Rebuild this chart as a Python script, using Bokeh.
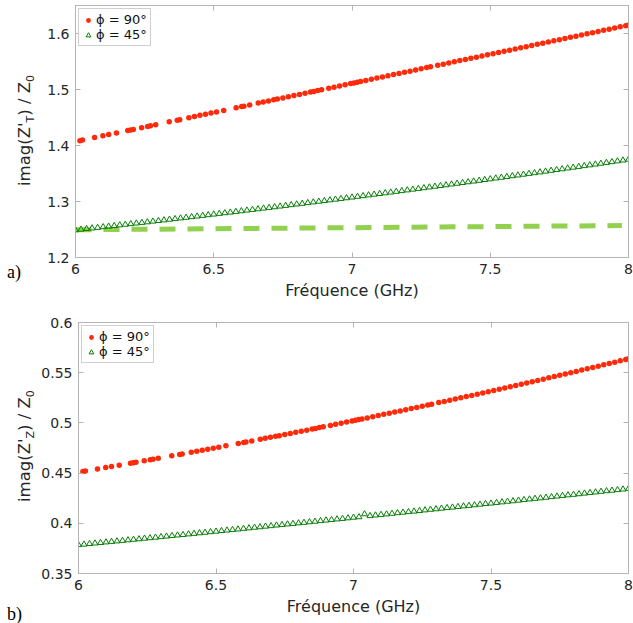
from bokeh.plotting import figure
from bokeh.models import (Range1d, LinearAxis, Legend, LegendItem, Div,
                          CustomJSTickFormatter, FixedTicker, PrintfTickFormatter)
from bokeh.layouts import column, row
from bokeh.embed import file_html
from bokeh.resources import INLINE

# ---------------- data ----------------
X_TICKS = [6, 6.5, 7, 7.5, 8]
TOP_YTICKS = [1.2, 1.3, 1.4, 1.5, 1.6]
BOT_YTICKS = [0.35, 0.4, 0.45, 0.5, 0.55, 0.6]
LEGEND_LABELS = ["ϕ = 90°", "ϕ = 45°"]
X_TITLE = "Fréquence (GHz)"

FREQ_RED = [6.016, 6.025, 6.069, 6.099, 6.120, 6.148, 6.189, 6.199, 6.209, 6.239, 6.261, 6.271, 6.290, 6.339, 6.368, 6.377,
            6.41, 6.43, 6.45, 6.47, 6.49, 6.51,
            6.536, 6.581, 6.601, 6.609, 6.630, 6.661, 6.679, 6.698, 6.717,
            6.73, 6.75, 6.77, 6.79, 6.81, 6.83, 6.85, 6.862,
            6.876, 6.890,
            6.916, 6.935, 6.955, 6.975, 6.995, 7.007,
            7.019, 7.031,
            7.05, 7.07, 7.09, 7.11, 7.13, 7.15, 7.17, 7.19, 7.21, 7.23, 7.25, 7.27, 7.284,
            7.31, 7.33, 7.35, 7.37, 7.39, 7.41, 7.43, 7.45, 7.47, 7.49, 7.51, 7.53, 7.55, 7.57, 7.59, 7.61, 7.63, 7.65,
            7.67, 7.69, 7.71, 7.73, 7.75, 7.77, 7.79, 7.81, 7.83, 7.85, 7.87, 7.89, 7.91, 7.93, 7.95, 7.97, 7.99, 8.00]

TOP_RED = [1.4087, 1.4096, 1.4142, 1.4173, 1.4195, 1.4224, 1.4267, 1.4277, 1.4287, 1.4319, 1.4341, 1.4352, 1.4372, 1.4423, 1.4453, 1.4462,
           1.4496, 1.4517, 1.4538, 1.4559, 1.4580, 1.4600,
           1.4627, 1.4674, 1.4695, 1.4703, 1.4725, 1.4757, 1.4776, 1.4796, 1.4816,
           1.4829, 1.4850, 1.4871, 1.4892, 1.4912, 1.4933, 1.4954, 1.4966,
           1.4981, 1.4996,
           1.5023, 1.5042, 1.5063, 1.5084, 1.5105, 1.5117,
           1.5130, 1.5142,
           1.5162, 1.5183, 1.5204, 1.5224, 1.5245, 1.5266, 1.5287, 1.5308, 1.5328, 1.5349, 1.5370, 1.5391, 1.5405,
           1.5432, 1.5453, 1.5474, 1.5495, 1.5516, 1.5536, 1.5557, 1.5578, 1.5599, 1.5620, 1.5640, 1.5661, 1.5682, 1.5703,
           1.5724, 1.5744, 1.5765, 1.5786, 1.5807, 1.5828, 1.5848, 1.5869, 1.5890, 1.5911, 1.5932, 1.5952, 1.5973, 1.5994,
           1.6015, 1.6036, 1.6056, 1.6077, 1.6098, 1.6119, 1.6140, 1.6150]

BOT_RED = [0.4517, 0.4522, 0.4542, 0.4556, 0.4566, 0.4579, 0.4599, 0.4604, 0.4608, 0.4623, 0.4634, 0.4639, 0.4648, 0.4672, 0.4686, 0.4691,
           0.4707, 0.4717, 0.4728, 0.4738, 0.4748, 0.4758,
           0.4772, 0.4795, 0.4805, 0.4809, 0.4820, 0.4837, 0.4846, 0.4856, 0.4867,
           0.4873, 0.4884, 0.4895, 0.4906, 0.4917, 0.4928, 0.4939, 0.4945,
           0.4953, 0.4961,
           0.4975, 0.4986, 0.4997, 0.5008, 0.5019, 0.5026,
           0.5033, 0.5040,
           0.5050, 0.5062, 0.5073, 0.5085, 0.5096, 0.5108, 0.5119, 0.5131, 0.5143, 0.5154, 0.5166, 0.5178, 0.5186,
           0.5202, 0.5214, 0.5226, 0.5238, 0.5250, 0.5262, 0.5274, 0.5286, 0.5299, 0.5311, 0.5323, 0.5336, 0.5348, 0.5360,
           0.5373, 0.5385, 0.5398, 0.5411, 0.5423, 0.5436, 0.5449, 0.5461, 0.5474, 0.5487, 0.5500, 0.5513, 0.5526, 0.5539,
           0.5552, 0.5565, 0.5578, 0.5592, 0.5605, 0.5618, 0.5631, 0.5638]

FREQ_GREEN = [6.00, 6.02, 6.04, 6.06, 6.08, 6.10, 6.12, 6.14, 6.16, 6.18,
              6.20, 6.22, 6.24, 6.26, 6.28, 6.30, 6.32, 6.34, 6.36, 6.38,
              6.40, 6.42, 6.44, 6.46, 6.48, 6.50, 6.52, 6.54, 6.56, 6.58,
              6.60, 6.62, 6.64, 6.66, 6.68, 6.70, 6.72, 6.74, 6.76, 6.78,
              6.80, 6.82, 6.84, 6.86, 6.88, 6.90, 6.92, 6.94, 6.96, 6.98,
              7.00, 7.02, 7.04, 7.06, 7.08, 7.10, 7.12, 7.14, 7.16, 7.18,
              7.20, 7.22, 7.24, 7.26, 7.28, 7.30, 7.32, 7.34, 7.36, 7.38,
              7.40, 7.42, 7.44, 7.46, 7.48, 7.50, 7.52, 7.54, 7.56, 7.58,
              7.60, 7.62, 7.64, 7.66, 7.68, 7.70, 7.72, 7.74, 7.76, 7.78,
              7.80, 7.82, 7.84, 7.86, 7.88, 7.90, 7.92, 7.94, 7.96, 7.98,
              8.00]

TOP_GREEN = [1.2490, 1.2501, 1.2512, 1.2523, 1.2533, 1.2545, 1.2555, 1.2566, 1.2578, 1.2589,
             1.2600, 1.2611, 1.2622, 1.2633, 1.2645, 1.2656, 1.2667, 1.2679, 1.2690, 1.2702,
             1.2713, 1.2725, 1.2736, 1.2748, 1.2760, 1.2771, 1.2783, 1.2795, 1.2806, 1.2818,
             1.2830, 1.2842, 1.2854, 1.2866, 1.2878, 1.2890, 1.2902, 1.2914, 1.2926, 1.2939,
             1.2951, 1.2963, 1.2976, 1.2988, 1.3000, 1.3012, 1.3025, 1.3037, 1.3050, 1.3062,
             1.3075, 1.3088, 1.3100, 1.3113, 1.3126, 1.3138, 1.3151, 1.3164, 1.3177, 1.3190,
             1.3203, 1.3216, 1.3229, 1.3242, 1.3255, 1.3268, 1.3281, 1.3294, 1.3308, 1.3321,
             1.3334, 1.3348, 1.3361, 1.3374, 1.3388, 1.3401, 1.3415, 1.3428, 1.3442, 1.3456,
             1.3469, 1.3483, 1.3497, 1.3510, 1.3524, 1.3538, 1.3552, 1.3566, 1.3580, 1.3594,
             1.3608, 1.3622, 1.3636, 1.3650, 1.3664, 1.3678, 1.3693, 1.3707, 1.3721, 1.3736,
             1.3750]

BOT_GREEN = [0.3785, 0.3790, 0.3796, 0.3801, 0.3806, 0.3812, 0.3817, 0.3822, 0.3827, 0.3833,
             0.3838, 0.3843, 0.3849, 0.3854, 0.3859, 0.3865, 0.3870, 0.3876, 0.3881, 0.3886,
             0.3892, 0.3897, 0.3903, 0.3908, 0.3914, 0.3919, 0.3925, 0.3930, 0.3936, 0.3941,
             0.3947, 0.3952, 0.3958, 0.3963, 0.3969, 0.3974, 0.3980, 0.3985, 0.3991, 0.3996,
             0.4002, 0.4007, 0.4013, 0.4018, 0.4024, 0.4030, 0.4035, 0.4041, 0.4046, 0.4052,
             0.4058, 0.4063, 0.4092, 0.4074, 0.4080, 0.4086, 0.4091, 0.4097, 0.4103, 0.4108,
             0.4114, 0.4119, 0.4125, 0.4131, 0.4137, 0.4142, 0.4148, 0.4154, 0.4159, 0.4165,
             0.4171, 0.4176, 0.4182, 0.4188, 0.4194, 0.4199, 0.4205, 0.4211, 0.4217, 0.4222,
             0.4228, 0.4234, 0.4240, 0.4246, 0.4251, 0.4257, 0.4263, 0.4269, 0.4275, 0.4281,
             0.4286, 0.4292, 0.4298, 0.4304, 0.4310, 0.4316, 0.4322, 0.4327, 0.4333, 0.4339,
             0.4345]

DASH_FREQ = [6.0, 7.976]
DASH_TOP = [1.2495, 1.2570]

# ---------------- style ----------------
RED = "#ff2a0a"
GREEN = "#077d07"
DASH_GREEN = "#92d050"
AXIS_GRAY = "#b4b4b4"
TEXT = "#262626"
SANS = "DejaVu Sans"
SERIF = "Liberation Serif"
LEFT_W = 38
MAIN_W = 633 - LEFT_W


def make_label_strip(height, sub, tag, text_start, tag_top):
    """Narrow HTML strip on the left: rotated y title with subscripts and the panel tag."""
    html = (
        f'<div style="position:relative;width:{LEFT_W}px;height:{height}px;overflow:visible;">'
        f'<div style="position:absolute;left:14.5px;top:{text_start}px;transform:rotate(-90deg);'
        f'transform-origin:0 0;white-space:nowrap;font-family:\'{SANS}\';font-size:16.5px;'
        f'line-height:normal;color:{TEXT};">'
        f'imag(Z\'<sub style="font-size:11px;">{sub}</sub>) / Z<sub style="font-size:11px;">0</sub></div>'
        f'<div style="position:absolute;left:7px;top:{tag_top}px;font-family:\'{SERIF}\';'
        f'font-size:18px;line-height:20px;color:black;">{tag}</div>'
        f'</div>'
    )
    return Div(text=html, width=LEFT_W, height=height, margin=(0, 0, 0, 0))


def make_panel(yr, yticks, red_vals, green_vals, height, mtop, mbottom, dash=None):
    p = figure(width=MAIN_W, height=height, output_backend="svg", toolbar_location=None,
               x_range=Range1d(6, 8), y_range=Range1d(*yr),
               min_border_left=75 - LEFT_W, min_border_right=5,
               min_border_top=mtop, min_border_bottom=mbottom)
    p.grid.visible = False
    p.outline_line_color = AXIS_GRAY
    p.background_fill_color = "white"
    p.border_fill_color = "white"

    p.xaxis.ticker = FixedTicker(ticks=X_TICKS)
    p.yaxis.ticker = FixedTicker(ticks=yticks)
    for ax in (p.xaxis[0], p.yaxis[0]):
        ax.axis_line_color = AXIS_GRAY
        ax.major_tick_line_color = AXIS_GRAY
        ax.major_tick_in = 5
        ax.major_tick_out = 0
        ax.minor_tick_line_color = None
        ax.formatter = PrintfTickFormatter(format="%g")
        ax.major_label_text_font = SANS
        ax.major_label_text_font_size = "14px"
        ax.major_label_text_color = TEXT
    p.xaxis.major_label_standoff = 6
    p.yaxis.major_label_standoff = 6
    p.xaxis.axis_label = X_TITLE
    p.xaxis.axis_label_text_font = SANS
    p.xaxis.axis_label_text_font_size = "16px"
    p.xaxis.axis_label_text_font_style = "normal"
    p.xaxis.axis_label_text_color = TEXT
    p.xaxis.axis_label_standoff = 4

    top = LinearAxis(ticker=FixedTicker(ticks=X_TICKS))
    right = LinearAxis(ticker=FixedTicker(ticks=yticks))
    for ax in (top, right):
        ax.axis_line_color = AXIS_GRAY
        ax.major_tick_line_color = AXIS_GRAY
        ax.major_tick_in = 5
        ax.major_tick_out = 0
        ax.minor_tick_line_color = None
        ax.formatter = CustomJSTickFormatter(code="return ''")
        ax.major_label_standoff = 0
        ax.major_label_text_font_size = "0px"
    p.add_layout(top, "above")
    p.add_layout(right, "right")

    if dash is not None:
        p.line(dash[0], dash[1], line_color=DASH_GREEN, line_width=5, line_dash="16 12", line_cap="butt")

    r_red = p.scatter(FREQ_RED, red_vals, marker="circle", size=5.5, fill_color=RED, line_color=None)
    r_green = p.scatter(FREQ_GREEN, green_vals, marker="triangle", size=6, fill_color=None,
                        line_color=GREEN, line_width=1)

    legend = Legend(items=[LegendItem(label=LEGEND_LABELS[0], renderers=[r_red]),
                           LegendItem(label=LEGEND_LABELS[1], renderers=[r_green])],
                    location="top_left", margin=3, padding=3, spacing=0,
                    glyph_width=12, glyph_height=14, label_height=14, label_standoff=2,
                    label_text_font=SANS, label_text_font_size="13px", label_text_color="#111111",
                    border_line_color="#a0a0a0", border_line_width=1,
                    background_fill_color="white", background_fill_alpha=1)
    p.add_layout(legend)
    return p


H_TOP, H_BOT = 313, 310
p_top = make_panel((1.2, 1.65), TOP_YTICKS, TOP_RED, TOP_GREEN, H_TOP, 5, 56,
                   dash=(DASH_FREQ, DASH_TOP))
p_bot = make_panel((0.35, 0.6), BOT_YTICKS, BOT_RED, BOT_GREEN, H_BOT, 9, 50)
s_top = make_label_strip(H_TOP, "T", "a)", 186, 262)
s_bot = make_label_strip(H_BOT, "Z", "b)", 189, 291)

layout = column(row(s_top, p_top, spacing=0), row(s_bot, p_bot, spacing=0), spacing=0)

open("out.html", "w").write(file_html(layout, INLINE))
